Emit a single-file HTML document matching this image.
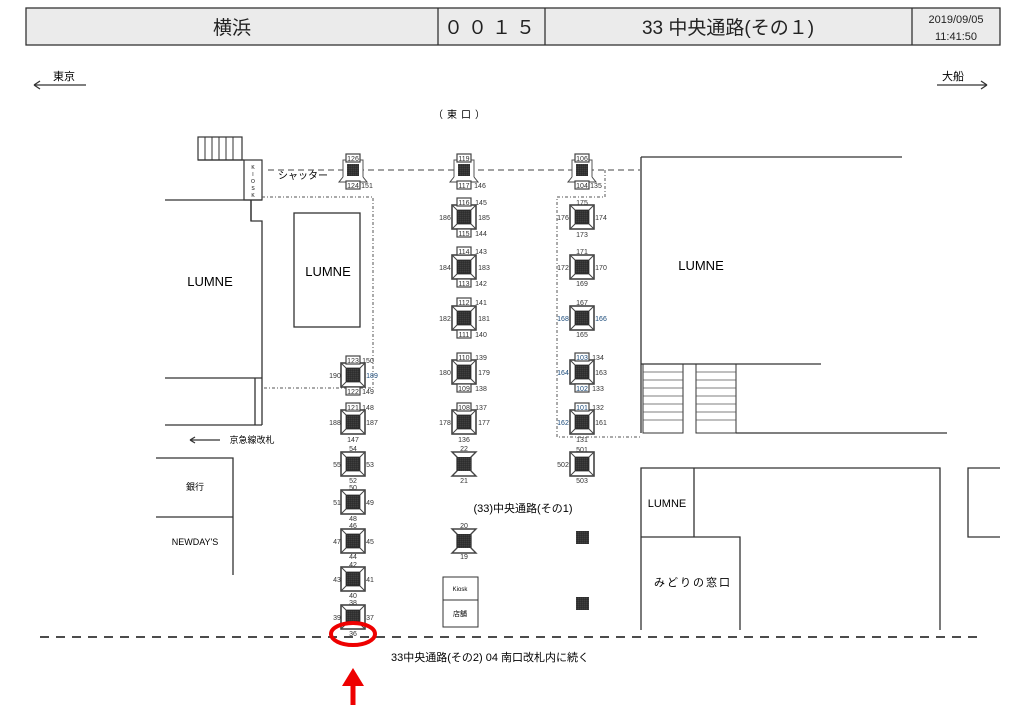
<!DOCTYPE html>
<html><head><meta charset="utf-8"><style>
html,body{margin:0;padding:0;background:#fff;}
svg{display:block;font-family:"Liberation Sans","Noto Sans CJK JP",sans-serif;}
.n{font-size:7px;fill:#333;text-anchor:middle;}
.b{font-size:7px;fill:#1a4a7a;text-anchor:middle;}
.ln{stroke:#333;stroke-width:1.3;fill:none;}
</style></head><body>
<svg width="1024" height="708" viewBox="0 0 1024 708">
<defs>
<pattern id="dots" width="2" height="2" patternUnits="userSpaceOnUse"><rect width="2" height="2" fill="#222"/><rect x="0.5" y="0.5" width="0.8" height="0.8" fill="#999"/></pattern>
<g id="p">
<rect x="-12" y="-12" width="24" height="24" fill="#fff" stroke="#444" stroke-width="1.6"/>
<path d="M-12,-12L-7,-7M12,-12L7,-7M-12,12L-7,7M12,12L7,7" stroke="#444" stroke-width="1"/>
<rect x="-7" y="-7" width="14" height="14" fill="url(#dots)" stroke="#333" stroke-width="0.8"/>
</g>
<g id="h">
<path d="M-12,-12H12L7,-7V7L12,12H-12L-7,7V-7Z" fill="#fff" stroke="#444" stroke-width="1.4"/>
<rect x="-7" y="-7" width="14" height="14" fill="url(#dots)"/>
</g>
<g id="s">
<rect x="-10" y="-10" width="20" height="20" fill="#fff" stroke="#555" stroke-width="1"/>
<rect x="-6" y="-6" width="12" height="12" fill="url(#dots)"/>
<path d="M-10,7L-14,12H14L10,7" fill="#fff" stroke="#444" stroke-width="1"/>
</g>
<g id="tag"><rect x="-7" y="-4" width="14" height="8" fill="#fff" stroke="#444" stroke-width="1.2"/></g>
</defs>

<!-- header -->
<rect x="26" y="8" width="974" height="37" fill="#ebebeb" stroke="#333" stroke-width="1.3"/>
<line x1="438" y1="8" x2="438" y2="45" class="ln"/>
<line x1="545" y1="8" x2="545" y2="45" class="ln"/>
<line x1="912" y1="8" x2="912" y2="45" class="ln"/>
<text x="232" y="34" font-size="19" text-anchor="middle" fill="#222">横浜</text>
<text x="492" y="34" font-size="19" text-anchor="middle" fill="#222" letter-spacing="5">００１５</text>
<text x="728" y="34" font-size="19" text-anchor="middle" fill="#222">33 中央通路(その１)</text>
<text x="956" y="23" font-size="11" text-anchor="middle" fill="#222">2019/09/05</text>
<text x="956" y="40" font-size="11" text-anchor="middle" fill="#222">11:41:50</text>

<!-- direction -->
<text x="64" y="80" font-size="11" text-anchor="middle">東京</text>
<path d="M34,85H86M34,85L40,81M34,85L40,89" class="ln" stroke-width="1"/>
<text x="953" y="80" font-size="11" text-anchor="middle">大船</text>
<path d="M937,85H987M987,85L981,81M987,85L981,89" class="ln" stroke-width="1"/>
<text x="461" y="118" font-size="10" text-anchor="middle" letter-spacing="4">（東口）</text>

<!-- left structures -->
<rect x="198" y="137" width="44" height="23" fill="none" stroke="#333" stroke-width="1.2"/>
<path d="M205,137V160M212,137V160M219,137V160M226,137V160M233,137V160" stroke="#333" stroke-width="1"/>
<rect x="244" y="160" width="18" height="40" fill="#fff" stroke="#333" stroke-width="1.2"/>
<text x="253" y="169" font-size="5" text-anchor="middle">K</text>
<text x="253" y="176" font-size="5" text-anchor="middle">I</text>
<text x="253" y="183" font-size="5" text-anchor="middle">O</text>
<text x="253" y="190" font-size="5" text-anchor="middle">S</text>
<text x="253" y="197" font-size="5" text-anchor="middle">K</text>
<path d="M198,160H244M165,200H262" class="ln"/>
<path d="M251,200V221H262V425" class="ln"/>
<line x1="251" y1="200" x2="251" y2="221" class="ln"/>
<path d="M165,378H262M165,425H262M255,378V425" class="ln"/>
<text x="210" y="286" font-size="13" text-anchor="middle">LUMNE</text>
<rect x="294" y="213" width="66" height="114" fill="none" stroke="#333" stroke-width="1.3"/>
<text x="328" y="276" font-size="13" text-anchor="middle">LUMNE</text>
<text x="303" y="179" font-size="10" text-anchor="middle">シャッター</text>
<text x="252" y="443" font-size="9" text-anchor="middle">京急線改札</text>
<path d="M190,440H220M190,440L195,437M190,440L195,443" class="ln" stroke-width="0.9"/>
<path d="M156,458H233V575" class="ln"/>
<line x1="156" y1="517" x2="233" y2="517" class="ln"/>
<text x="195" y="490" font-size="9" text-anchor="middle">銀行</text>
<text x="195" y="545" font-size="9" text-anchor="middle">NEWDAY'S</text>

<!-- dashed/dotted lines -->
<line x1="268" y1="170" x2="640" y2="170" stroke="#444" stroke-width="1" stroke-dasharray="6,4"/>
<path d="M262,197H373V388H262" fill="none" stroke="#555" stroke-width="1" stroke-dasharray="3,2,1,2"/>
<path d="M605,170V197H557V437H640" fill="none" stroke="#555" stroke-width="1" stroke-dasharray="3,2,1,2"/>
<line x1="40" y1="637" x2="982" y2="637" stroke="#333" stroke-width="1.8" stroke-dasharray="9,7"/>

<!-- right structures -->
<path d="M641,157H902M641,157V433" class="ln"/>
<path d="M641,364H821" class="ln"/>
<rect x="643" y="364" width="40" height="69" fill="none" stroke="#333" stroke-width="1"/>
<rect x="696" y="364" width="40" height="69" fill="none" stroke="#333" stroke-width="1"/>
<path d="M643,372H683M643,380H683M643,388H683M643,396H683M643,404H683M643,412H683M643,420H683M696,372H736M696,380H736M696,388H736M696,396H736M696,404H736M696,412H736M696,420H736" stroke="#555" stroke-width="0.8"/>
<path d="M736,433H947" class="ln"/>
<text x="701" y="270" font-size="13" text-anchor="middle">LUMNE</text>
<path d="M641,630V468H940V630M694,468V537M641,537H740V630" class="ln"/>
<path d="M1000,468H968V537H1000" class="ln"/>
<text x="667" y="507" font-size="11" text-anchor="middle">LUMNE</text>
<text x="693" y="586" font-size="11" text-anchor="middle" letter-spacing="2">みどりの窓口</text>

<!-- kiosk bottom -->
<rect x="443" y="577" width="35" height="50" fill="none" stroke="#333" stroke-width="1"/>
<line x1="443" y1="600" x2="478" y2="600" stroke="#333" stroke-width="1"/>
<text x="460" y="591" font-size="6" text-anchor="middle">Kiosk</text>
<text x="460" y="616" font-size="7" text-anchor="middle">店舗</text>
<text x="523" y="512" font-size="11" text-anchor="middle">(33)中央通路(その1)</text>
<text x="490" y="661" font-size="11" text-anchor="middle">33中央通路(その2)  04 南口改札内に続く</text>

<!-- top row pillars -->
<use href="#s" x="353" y="170"/><use href="#tag" x="353" y="158"/><use href="#tag" x="353" y="185"/>
<text class="n" x="353" y="161">126</text><text class="n" x="353" y="188">124</text><text class="n" x="367" y="188">151</text>
<use href="#s" x="464" y="170"/><use href="#tag" x="464" y="158"/><use href="#tag" x="464" y="185"/>
<text class="n" x="464" y="161">119</text><text class="n" x="464" y="188">117</text><text class="n" x="480" y="188">146</text>
<use href="#s" x="582" y="170"/><use href="#tag" x="582" y="158"/><use href="#tag" x="582" y="185"/>
<text class="n" x="582" y="161">106</text><text class="n" x="582" y="188">104</text><text class="n" x="596" y="188">135</text>

<!-- col A -->
<use href="#p" x="353" y="375"/><use href="#tag" x="353" y="360"/><use href="#tag" x="353" y="391"/>
<text class="n" x="353" y="363">123</text><text class="n" x="353" y="394">122</text><text class="n" x="368" y="363">150</text><text class="n" x="368" y="394">149</text><text class="n" x="335" y="378">190</text><text class="b" x="372" y="378">189</text>
<use href="#p" x="353" y="422"/><use href="#tag" x="353" y="407"/>
<text class="n" x="353" y="410">121</text><text class="n" x="368" y="410">148</text><text class="n" x="335" y="425">188</text><text class="n" x="372" y="425">187</text><text class="n" x="353" y="442">147</text>
<use href="#p" x="353" y="464"/><text class="n" x="353" y="451">54</text><text class="n" x="337" y="467">55</text><text class="n" x="370" y="467">53</text><text class="n" x="353" y="483">52</text>
<use href="#p" x="353" y="502"/><text class="n" x="353" y="490">50</text><text class="n" x="337" y="505">51</text><text class="n" x="370" y="505">49</text><text class="n" x="353" y="521">48</text>
<use href="#p" x="353" y="541"/><text class="n" x="353" y="528">46</text><text class="n" x="337" y="544">47</text><text class="n" x="370" y="544">45</text><text class="n" x="353" y="559">44</text>
<use href="#p" x="353" y="579"/><text class="n" x="353" y="567">42</text><text class="n" x="337" y="582">43</text><text class="n" x="370" y="582">41</text><text class="n" x="353" y="598">40</text>
<use href="#p" x="353" y="617"/><text class="n" x="353" y="605">38</text><text class="n" x="337" y="620">39</text><text class="n" x="370" y="620">37</text><text class="n" x="353" y="636">36</text>

<!-- col B -->
<use href="#p" x="464" y="217"/><use href="#tag" x="464" y="202"/><use href="#tag" x="464" y="233"/>
<text class="n" x="464" y="205">116</text><text class="n" x="464" y="236">115</text><text class="n" x="481" y="205">145</text><text class="n" x="481" y="236">144</text><text class="n" x="445" y="220">186</text><text class="n" x="484" y="220">185</text>
<use href="#p" x="464" y="267"/><use href="#tag" x="464" y="251"/><use href="#tag" x="464" y="283"/>
<text class="n" x="464" y="254">114</text><text class="n" x="464" y="286">113</text><text class="n" x="481" y="254">143</text><text class="n" x="481" y="286">142</text><text class="n" x="445" y="270">184</text><text class="n" x="484" y="270">183</text>
<use href="#p" x="464" y="318"/><use href="#tag" x="464" y="302"/><use href="#tag" x="464" y="334"/>
<text class="n" x="464" y="305">112</text><text class="n" x="464" y="337">111</text><text class="n" x="481" y="305">141</text><text class="n" x="481" y="337">140</text><text class="n" x="445" y="321">182</text><text class="n" x="484" y="321">181</text>
<use href="#p" x="464" y="372"/><use href="#tag" x="464" y="357"/><use href="#tag" x="464" y="388"/>
<text class="n" x="464" y="360">110</text><text class="n" x="464" y="391">109</text><text class="n" x="481" y="360">139</text><text class="n" x="481" y="391">138</text><text class="n" x="445" y="375">180</text><text class="n" x="484" y="375">179</text>
<use href="#p" x="464" y="422"/><use href="#tag" x="464" y="407"/>
<text class="n" x="464" y="410">108</text><text class="n" x="481" y="410">137</text><text class="n" x="445" y="425">178</text><text class="n" x="484" y="425">177</text><text class="n" x="464" y="442">136</text>
<use href="#h" x="464" y="464"/><text class="n" x="464" y="451">22</text><text class="n" x="464" y="483">21</text>
<use href="#h" x="464" y="541"/><text class="n" x="464" y="528">20</text><text class="n" x="464" y="559">19</text>

<!-- col C -->
<use href="#p" x="582" y="217"/><text class="n" x="582" y="205">175</text><text class="n" x="563" y="220">176</text><text class="n" x="601" y="220">174</text><text class="n" x="582" y="237">173</text>
<use href="#p" x="582" y="267"/><text class="n" x="582" y="254">171</text><text class="n" x="563" y="270">172</text><text class="n" x="601" y="270">170</text><text class="n" x="582" y="286">169</text>
<use href="#p" x="582" y="318"/><text class="n" x="582" y="305">167</text><text class="b" x="563" y="321">168</text><text class="b" x="601" y="321">166</text><text class="n" x="582" y="337">165</text>
<use href="#p" x="582" y="372"/><use href="#tag" x="582" y="357"/><use href="#tag" x="582" y="388"/>
<text class="b" x="582" y="360">103</text><text class="b" x="582" y="391">102</text><text class="n" x="598" y="360">134</text><text class="n" x="598" y="391">133</text><text class="b" x="563" y="375">164</text><text class="n" x="601" y="375">163</text>
<use href="#p" x="582" y="422"/><use href="#tag" x="582" y="407"/>
<text class="b" x="582" y="410">101</text><text class="n" x="598" y="410">132</text><text class="b" x="563" y="425">162</text><text class="n" x="601" y="425">161</text><text class="n" x="582" y="442">131</text>
<use href="#p" x="582" y="464"/><text class="n" x="582" y="452">501</text><text class="n" x="563" y="467">502</text><text class="n" x="582" y="483">503</text>
<rect x="576" y="531" width="13" height="13" fill="url(#dots)"/>
<rect x="576" y="597" width="13" height="13" fill="url(#dots)"/>

<!-- red marker -->
<ellipse cx="353" cy="634" rx="22" ry="11" fill="none" stroke="#e00" stroke-width="4"/>
<path d="M353,705V684" stroke="#e00" stroke-width="5"/>
<path d="M342,686L353,668L364,686Z" fill="#e00"/>
</svg>
</body></html>
